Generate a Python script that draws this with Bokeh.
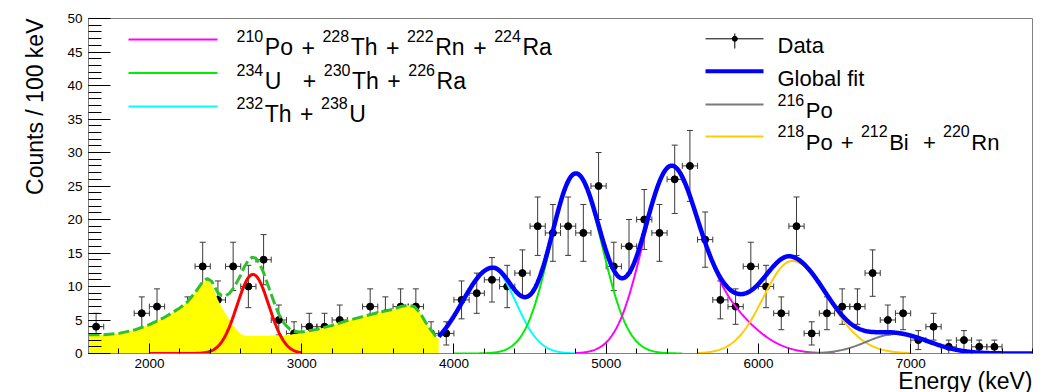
import numpy as np
from bokeh.plotting import figure
from bokeh.models import Range1d, SingleIntervalTicker, Label, Title
from bokeh.embed import file_html
from bokeh.resources import INLINE

# ---------------- data ----------------
bin_centers = [1650, 1950, 2050, 2250, 2350, 2450, 2550, 2650, 2750, 2850, 2950,
               3050, 3150, 3250, 3450, 3550, 3650, 3750, 3850, 3950, 4050, 4150,
               4250, 4350, 4450, 4550, 4650, 4750, 4850, 4950, 5050, 5150, 5250,
               5350, 5450, 5550, 5650, 5750, 5850, 5950, 6050, 6150, 6250, 6350,
               6450, 6550, 6650, 6750, 6850, 6950, 7050, 7150, 7250, 7350, 7450, 7550]
counts = [4, 6, 7, 6, 13, 8, 13, 10, 14, 5, 3,
          4, 4, 5, 7, 6, 7, 7, 3, 3, 8, 9,
          11, 10, 12, 19, 18, 19, 18, 25, 13, 16, 20,
          18, 26, 28, 17, 8, 7, 13, 10, 6, 19, 3,
          6, 7, 7, 12, 5, 6, 2, 4, 1, 2, 1, 1]
bin_width = 100

# fit components: (amplitude, mean, sigma_left, sigma_right)
comp_po_th_rn_ra = [(25.0, 5410, 175, 175), (7.0, 5720, 230, 230)]   # magenta
comp_u_th_ra = [(26.8, 4800, 166, 172)]                              # green
comp_th_u = [(12.7, 4250, 195, 156)]                                 # cyan
comp_po216 = [(2.9, 6900, 190, 220)]                                 # grey
comp_po_bi_rn = [(13.8, 6220, 188, 235)]                             # orange
comp_low_peak = [(11.8, 2680, 105, 105)]                             # red

# low-energy background shape (yellow)
bkg_E = [1600, 1700, 1800, 1900, 2000, 2100, 2200, 2250, 2300, 2350, 2380, 2410,
         2450, 2475, 2500, 2525, 2550, 2575, 2600, 2625, 2650, 2675, 2700, 2725,
         2750, 2775, 2800, 2825, 2850, 2875, 2900, 2925, 2950, 2975, 3000, 3100,
         3200, 3300, 3400, 3500, 3600, 3650, 3700, 3740, 3780, 3810, 3850, 3880, 3900]
bkg_C = [2.8, 2.8, 3.0, 3.5, 4.3, 5.4, 6.8, 7.7, 9.1, 10.6, 11.0, 10.3,
         8.0, 6.9, 5.9, 5.0, 4.2, 3.5, 2.9, 2.7, 2.6, 2.6, 2.6, 2.6,
         2.6, 2.6, 2.7, 2.7, 2.7, 2.7, 2.8, 2.8, 2.9, 3.0, 3.1, 3.6,
         4.2, 4.9, 5.5, 6.1, 6.6, 7.0, 7.2, 7.0, 6.0, 4.8, 3.5, 2.6, 2.2]

x_ticks_major = 1000
y_ticks_major = 5
x_title = "Energy (keV)"
y_title = "Counts / 100 keV"


def model(E, comps):
    E = np.asarray(E, dtype=float)
    out = np.zeros_like(E)
    for a, m, sl, sr in comps:
        s = np.where(E < m, sl, sr)
        out += a * np.exp(-(E - m) ** 2 / (2 * s ** 2))
    return out


# ---------------- figure ----------------
X0, X1, Y0, Y1 = 1600, 7800, 0, 50
FL, FT, FW, FH = 88, 18, 944, 335

p = figure(width=1040, height=392, x_range=Range1d(X0, X1), y_range=Range1d(Y0, Y1),
           output_backend="svg", toolbar_location=None,
           min_border_left=FL, min_border_right=1040 - FL - FW,
           min_border_top=FT, min_border_bottom=392 - FT - FH)
p.xgrid.visible = False
p.ygrid.visible = False
p.outline_line_color = "#808080"
p.background_fill_color = "white"
p.border_fill_color = "white"

def px2x(px):
    return X0 + (px - FL) * (X1 - X0) / FW

def py2y(py):
    return Y1 - (py - FT) * (Y1 - Y0) / FH

FONT = "Liberation Sans"

p.xaxis.ticker = SingleIntervalTicker(interval=x_ticks_major, num_minor_ticks=5)
p.yaxis.ticker = SingleIntervalTicker(interval=y_ticks_major, num_minor_ticks=5)
for ax, tin, mtin, so in ((p.xaxis, 10, 5, 5), (p.yaxis, 22, 13, 6)):
    ax.major_tick_in = tin
    ax.major_tick_out = 0
    ax.minor_tick_in = mtin
    ax.minor_tick_out = 0
    ax.major_tick_line_color = "black"
    ax.minor_tick_line_color = "black"
    ax.axis_line_color = "#808080"
    ax.major_label_text_font = FONT
    ax.major_label_text_font_size = "13.5px"
    ax.major_label_text_color = "black"
    ax.major_label_standoff = so

# axis titles as side titles, aligned to the axis end (ROOT style)
xt = Title(text=x_title, align="right", text_font=FONT, text_font_size="23px",
           text_font_style="normal", text_color="black")
try:
    xt.standoff = -9
except Exception:
    xt.standoff = 0
yt = Title(text=y_title, align="right", text_font=FONT, text_font_size="23px",
           text_font_style="normal", text_color="black", standoff=34)
p.add_layout(xt, "below")
p.add_layout(yt, "left")

# ---------------- data points ----------------
cE = np.array(bin_centers, dtype=float)
cN = np.array(counts, dtype=float)
err = np.sqrt(cN)
ebar = "#3a3a3a"
p.segment(cE, cN - err, cE, cN + err, line_color=ebar, line_width=1)
p.segment(cE - bin_width / 2, cN, cE + bin_width / 2, cN, line_color=ebar, line_width=1)
p.scatter(np.concatenate([cE, cE]), np.concatenate([cN - err, cN + err]), marker="dash",
          size=6, line_color=ebar, line_width=1)
p.scatter(np.concatenate([cE - bin_width / 2, cE + bin_width / 2]), np.concatenate([cN, cN]),
          marker="dash", angle=np.pi / 2, size=6, line_color=ebar, line_width=1)
p.scatter(cE, cN, size=7, color="black")

# ---------------- low-energy part ----------------
bE = np.array(bkg_E, dtype=float)
bC = np.array(bkg_C, dtype=float)
p.varea(x=bE, y1=np.zeros_like(bC), y2=bC, fill_color="#ffff00")
Er = np.linspace(2000, 3000, 300)
p.line(Er, model(Er, comp_low_peak), line_color="#ff0000", line_width=3)
p.line(bE, bC + model(bE, comp_low_peak), line_color="#2fbf2f", line_width=3, line_dash="11 4")

# ---------------- high-energy components ----------------
Ec = np.linspace(3900, 4800, 300)
p.line(Ec, model(Ec, comp_th_u), line_color="#00ffff", line_width=2)
Eg = np.linspace(4000, 5500, 400)
p.line(Eg, model(Eg, comp_u_th_ra), line_color="#00ee00", line_width=2)
Em = np.linspace(4800, 6500, 400)
p.line(Em, model(Em, comp_po_th_rn_ra), line_color="#ff00ff", line_width=2)
Eo = np.linspace(5600, 7000, 400)
p.line(Eo, model(Eo, comp_po_bi_rn), line_color="#ffcc00", line_width=2)
Eq = np.linspace(6300, 7800, 400)
p.line(Eq, model(Eq, comp_po216), line_color="#7a7a7a", line_width=2)
Eb = np.linspace(3900, 7800, 900)
tot = (model(Eb, comp_th_u) + model(Eb, comp_u_th_ra) + model(Eb, comp_po_th_rn_ra)
       + model(Eb, comp_po_bi_rn) + model(Eb, comp_po216))
p.line(Eb, tot, line_color="#0000ff", line_width=4.5)

# ---------------- legends ----------------
ADV = {'0': .556, '1': .556, '2': .556, '3': .556, '4': .556, '5': .556, '6': .556,
       '7': .556, '8': .556, '9': .556, 'P': .667, 'o': .556, '+': .584, 'T': .611,
       'h': .556, 'R': .722, 'n': .556, 'a': .556, 'U': .722, 'B': .667, 'i': .222,
       ' ': .278}
KX = 1.06

def add_row(tokens, x0, base_py, fs, sfs=16, raise_px=11):
    x = x0
    for kind, s in tokens:
        if kind == "sp":
            x += s * ADV[' '] * fs * KX
            continue
        f = sfs if kind == "sup" else fs
        py = base_py - (raise_px if kind == "sup" else 0)
        p.add_layout(Label(x=px2x(x), y=py2y(py), text=s, text_font=FONT,
                           text_font_size=f"{f}px", text_baseline="alphabetic",
                           text_align="left", text_color="black"))
        x += sum(ADV[c] for c in s) * f * KX

def legend_line(x0, x1, py, color, w):
    p.line([px2x(x0), px2x(x1)], [py2y(py), py2y(py)], line_color=color, line_width=w)

# left legend
legend_line(128, 217, 39, "#ff00ff", 2)
legend_line(128, 217, 72.5, "#00ee00", 2)
legend_line(128, 217, 106, "#00ffff", 2)
add_row([("sup", "210"), ("b", "Po"), ("sp", 1), ("b", "+"), ("sp", 1), ("sup", "228"), ("b", "Th"),
         ("sp", 1), ("b", "+"), ("sp", 1), ("sup", "222"), ("b", "Rn"), ("sp", 1), ("b", "+"),
         ("sp", 1), ("sup", "224"), ("b", "Ra")], 236, 46.5, 23)
add_row([("sup", "234"), ("b", "U"), ("sp", 3), ("b", "+"), ("sp", 1), ("sup", "230"), ("b", "Th"),
         ("sp", 1), ("b", "+"), ("sp", 1), ("sup", "226"), ("b", "Ra")], 236, 80, 23)
add_row([("sup", "232"), ("b", "Th"), ("sp", 1), ("b", "+"), ("sp", 1), ("sup", "238"), ("b", "U")],
        236, 113, 23)

# right legend
dy = py2y(38.3)
p.line([px2x(705), px2x(763)], [dy, dy], line_color="black", line_width=1)
p.line([px2x(734.3), px2x(734.3)], [py2y(33), py2y(48)], line_color="black", line_width=1)
p.scatter([px2x(734.3)], [dy], size=5, color="black")
legend_line(705, 763, 70.7, "#0000ff", 4)
legend_line(705, 763, 104, "#7a7a7a", 2)
legend_line(705, 763, 136, "#ffcc00", 2)
p.add_layout(Label(x=px2x(777), y=py2y(45), text="Data", text_font=FONT, text_font_size="22px",
                   text_baseline="alphabetic", text_align="left", text_color="black"))
p.add_layout(Label(x=px2x(777), y=py2y(77.5), text="Global fit", text_font=FONT, text_font_size="22px",
                   text_baseline="alphabetic", text_align="left", text_color="black"))
add_row([("sup", "216"), ("b", "Po")], 777, 110, 22)
add_row([("sup", "218"), ("b", "Po"), ("sp", 1), ("b", "+"), ("sp", 1), ("sup", "212"), ("b", "Bi"),
         ("sp", 2), ("b", "+"), ("sp", 1), ("sup", "220"), ("b", "Rn")], 777, 141.7, 22)

open("out.html", "w").write(file_html(p, INLINE))
